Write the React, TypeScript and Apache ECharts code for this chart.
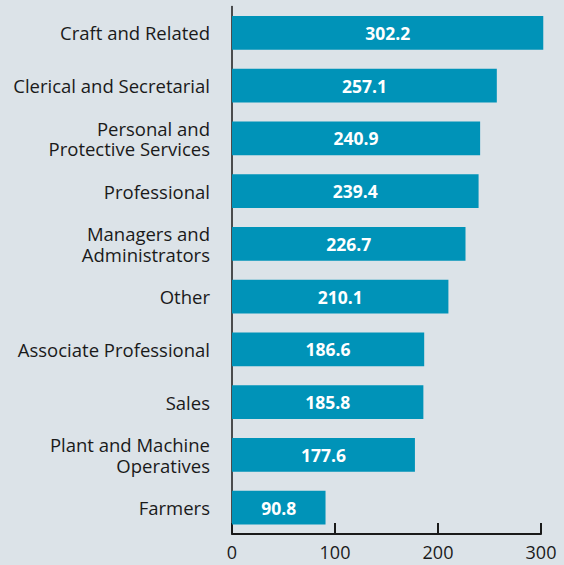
import React, { useEffect, useRef } from "react";
import * as echarts from "echarts";

const categories = [
  "Craft and Related",
  "Clerical and Secretarial",
  "Personal and\nProtective Services",
  "Professional",
  "Managers and\nAdministrators",
  "Other",
  "Associate Professional",
  "Sales",
  "Plant and Machine\nOperatives",
  "Farmers",
];
const values = [302.2, 257.1, 240.9, 239.4, 226.7, 210.1, 186.6, 185.8, 177.6, 90.8];

export default function App() {
  const ref = useRef<HTMLDivElement>(null);
  useEffect(() => {
    const chart = echarts.init(ref.current!, null, { renderer: "svg" });
    const font = "'Open Sans', sans-serif";
    chart.setOption({
      animation: false,
      backgroundColor: "#dce3e8",
      grid: { left: 232, right: 23, top: 6.6, bottom: 31 },
      xAxis: {
        type: "value",
        min: 0,
        max: 300,
        interval: 100,
        axisLine: { show: true, lineStyle: { color: "#1a1a1a", width: 2 } },
        axisTick: { show: true, inside: true, length: 11, lineStyle: { color: "#1a1a1a", width: 2 } },
        splitLine: { show: false },
        axisLabel: { color: "#1a1a1a", fontFamily: font, fontSize: 18, margin: 9 },
      },
      yAxis: {
        type: "category",
        inverse: true,
        data: categories,
        axisLine: { show: true, lineStyle: { color: "#1a1a1a", width: 1.5 } },
        axisTick: { show: false },
        axisLabel: {
          color: "#1a1a1a",
          fontFamily: font,
          fontSize: 18.5,
          lineHeight: 20.5,
          margin: 22,
          align: "right",
        },
      },
      series: [
        {
          type: "bar",
          data: values,
          clip: false,
          barCategoryGap: "36%",
          itemStyle: { color: "#0093b8" },
          label: {
            show: true,
            position: "inside",
            color: "#ffffff",
            fontFamily: font,
            fontWeight: "bold",
            fontSize: 17.5,
            formatter: (p: any) => p.value.toFixed(1),
          },
        },
      ],
    });
    return () => chart.dispose();
  }, []);
  return <div ref={ref} style={{ position: "fixed", left: 0, top: 0, width: 564, height: 565 }} />;
}
